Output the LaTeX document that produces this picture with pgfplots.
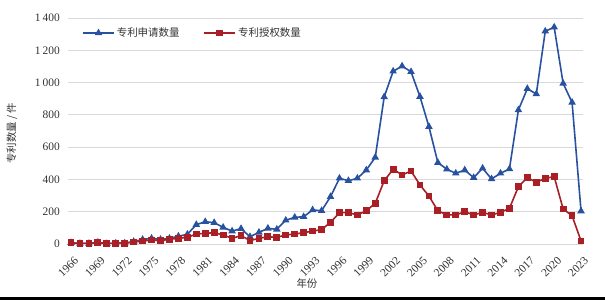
\documentclass[border=0pt]{standalone}
\usepackage{fontspec}
\setmainfont{Liberation Serif}
\newfontfamily\cjk{Noto Sans CJK SC}
\usepackage{pgfplots}
\pgfplotsset{compat=1.18}
\definecolor{blueline}{RGB}{40,82,160}
\definecolor{redline}{RGB}{168,32,38}
\definecolor{gridc}{RGB}{217,217,217}
\definecolor{txt}{RGB}{50,50,50}
\begin{document}
\begin{tikzpicture}
\begin{axis}[
  at={(0,0)}, anchor=south west,
  scale only axis, width=515bp, height=226bp,
  xmin=1965.66, xmax=2023.22, ymin=0, ymax=1400,
  axis line style={draw=none},
  xtick={1966,1969,...,2023},
  ytick={0,200,...,1400},
  yticklabels={0,200,400,600,800,1\,000,1\,200,1\,400},
  xticklabel={\pgfmathprintnumber[1000 sep={}]{\tick}},
  /pgf/number format/assume math mode=true,
  tick style={draw=none},
  ymajorgrids, grid style={gridc, line width=0.8bp},
  every tick label/.append style={font=\fontsize{11.5}{12}\selectfont, text=txt},
  xticklabel style={xshift=2.5bp, yshift=-12bp, rotate=45, anchor=north east, inner sep=0pt},
  yticklabel style={inner sep=0pt, xshift=-8bp},
  ylabel={\cjk 专利数量 / 件},
  ylabel style={font=\cjk\fontsize{10.5}{11}\selectfont, text=txt, at={(axis description cs:-0.1087,0.49)}, anchor=center},
  xlabel={\cjk 年份},
  xlabel style={font=\cjk\fontsize{10.5}{11}\selectfont, text=txt, at={(axis description cs:0.464,-0.1726)}, anchor=center},
  legend columns=2,
  legend style={draw=none, fill=none, at={(axis description cs:0,1)}, anchor=west, xshift=14bp, yshift=-15bp, inner sep=0pt,
    font=\cjk\fontsize{10.5}{11}\selectfont, text=txt,
    /tikz/every even column/.append style={column sep=22bp}},
  legend cell align=left,
  legend image code/.code={\draw[mark repeat=2,mark phase=2] plot coordinates {(0bp,0bp) (15.5bp,0bp) (31bp,0bp)};},
]
\addplot[draw=gridc!80!black, line width=0.8bp, forget plot] coordinates {(1965.66,0) (2023.22,0)};
\addplot[blueline, line width=1.6bp, mark=triangle*, mark size=2.8bp, mark options={solid}] coordinates {
(1966,8) (1967,3) (1968,3) (1969,10) (1970,2) (1971,5) (1972,5) (1973,15) (1974,28) (1975,35)
(1976,28) (1977,35) (1978,48) (1979,60) (1980,120) (1981,138) (1982,132) (1983,103) (1984,80) (1985,95)
(1986,45) (1987,72) (1988,97) (1989,91) (1990,147) (1991,165) (1992,169) (1993,211) (1994,206) (1995,293)
(1996,407) (1997,392) (1998,407) (1999,458) (2000,537) (2001,911) (2002,1070) (2003,1102) (2004,1067) (2005,913)
(2006,727) (2007,504) (2008,463) (2009,438) (2010,458) (2011,411) (2012,469) (2013,403) (2014,438) (2015,465)
(2016,830) (2017,962) (2018,929) (2019,1318) (2020,1343) (2021,995) (2022,877) (2023,204)};
\addlegendentry{专利申请数量}
\addplot[redline, line width=1.6bp, mark=square*, mark size=2.6bp, mark options={solid}] coordinates {
(1966,8) (1967,3) (1968,3) (1969,10) (1970,2) (1971,5) (1972,5) (1973,12) (1974,18) (1975,25)
(1976,21) (1977,29) (1978,35) (1979,41) (1980,62) (1981,66) (1982,70) (1983,56) (1984,35) (1985,52)
(1986,21) (1987,35) (1988,45) (1989,41) (1990,56) (1991,62) (1992,70) (1993,80) (1994,89) (1995,134)
(1996,194) (1997,194) (1998,180) (1999,206) (2000,252) (2001,392) (2002,463) (2003,428) (2004,452) (2005,366)
(2006,297) (2007,206) (2008,180) (2009,180) (2010,200) (2011,180) (2012,196) (2013,180) (2014,196) (2015,221)
(2016,355) (2017,411) (2018,382) (2019,407) (2020,417) (2021,217) (2022,175) (2023,19)};
\addlegendentry{专利授权数量}
\end{axis}
\fill[black] (-68bp,-56bp) rectangle (537bp,-53bp);
\pgfresetboundingbox
\useasboundingbox (-68bp,-56bp) rectangle (537bp,244bp);
\end{tikzpicture}
\end{document}
